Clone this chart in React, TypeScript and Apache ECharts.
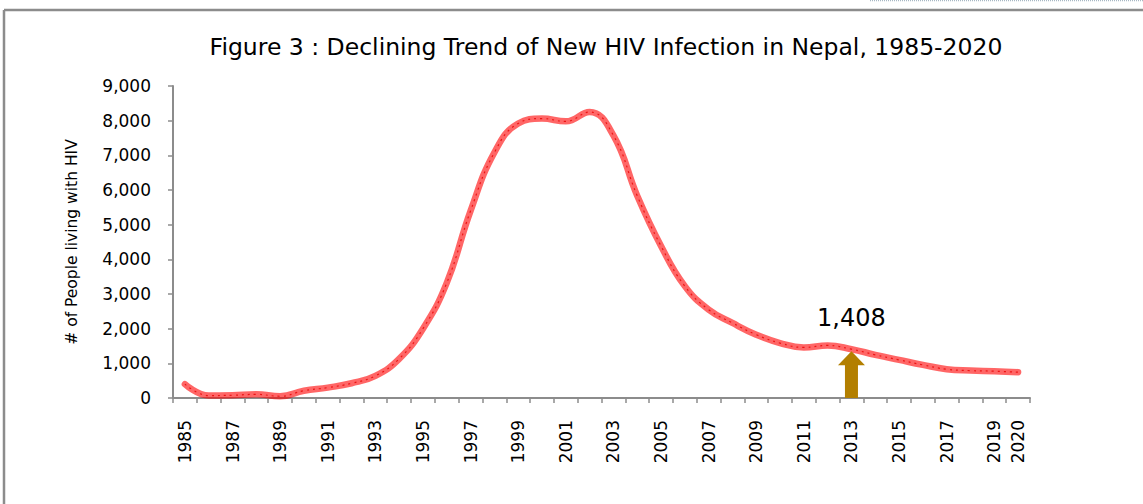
import React, { useEffect, useRef } from "react";
import * as echarts from "echarts";

const years: string[] = [];
for (let y = 1985; y <= 2020; y++) years.push(String(y));

const newInfections = [
  400, 70, 80, 105, 50, 210, 300, 425, 640, 1130,
  2000, 3320, 5400, 7080, 7920, 8060, 7980, 8250, 7575, 5835,
  4385, 3226, 2550, 2165, 1826, 1585, 1460, 1516, 1408, 1246,
  1100, 956, 830, 790, 774, 745,
];

const highlightYear = "2013";
const highlightValue = 1408;
const yTicks = [0, 9000, 1000];
const titleText = "Figure 3 : Declining Trend of New HIV Infection in Nepal, 1985-2020";
const yName = "# of People living with HIV";

const fmt = (v: number) => v.toLocaleString("en-US");

export default function App() {
  const ref = useRef<HTMLDivElement>(null);
  useEffect(() => {
    if (!ref.current) return;
    const chart = echarts.init(ref.current, undefined, { renderer: "svg" });
    const font = "DejaVu Sans";
    const last = years.length - 1;
    chart.setOption({
      animation: false,
      backgroundColor: "#ffffff",
      title: {
        text: titleText,
        left: 601,
        top: 30,
        textAlign: "center",
        textStyle: { fontFamily: font, fontSize: 23.5, fontWeight: "normal", color: "#000" },
      },
      graphic: [
        { type: "line", shape: { x1: 4, y1: 10, x2: 1143, y2: 10 }, style: { stroke: "#8c8c8c", lineWidth: 2.5 } },
        { type: "line", shape: { x1: 4, y1: 10, x2: 4, y2: 504 }, style: { stroke: "#8c8c8c", lineWidth: 2.5 } },
        { type: "line", shape: { x1: 870, y1: 0.5, x2: 1143, y2: 0.5 }, style: { stroke: "#a8b8c4", lineWidth: 1.5, lineDash: [1, 1] } },
      ],
      grid: { left: 173, right: 113, top: 86, bottom: 106, containLabel: false },
      xAxis: {
        type: "category",
        data: years,
        boundaryGap: true,
        axisLine: { lineStyle: { color: "#8c8c8c", width: 2 } },
        axisTick: { show: true, interval: 0, length: 5, lineStyle: { color: "#8c8c8c", width: 1.5 } },
        axisLabel: {
          interval: (i: number) => i % 2 === 0 || i === last,
          rotate: 90,
          margin: 22,
          fontFamily: font,
          fontSize: 17,
          color: "#000",
        },
        splitLine: { show: false },
      },
      yAxis: {
        type: "value",
        min: yTicks[0],
        max: yTicks[1],
        interval: yTicks[2],
        name: yName,
        nameLocation: "middle",
        nameRotate: 90,
        nameGap: 93,
        nameTextStyle: { fontFamily: font, fontSize: 15.5, color: "#000" },
        axisLine: { show: true, lineStyle: { color: "#8c8c8c", width: 2 } },
        axisTick: { show: true, length: 5, lineStyle: { color: "#8c8c8c", width: 1.5 } },
        axisLabel: { margin: 22, fontFamily: font, fontSize: 17, color: "#000", formatter: (v: number) => fmt(v) },
        splitLine: { show: false },
      },
      series: [
        {
          type: "line",
          data: newInfections,
          smooth: 0.45,
          symbol: "none",
          lineStyle: { color: "rgba(255,0,0,0.6)", width: 6.5, cap: "round" },
          z: 3,
        },
        {
          type: "line",
          data: newInfections,
          smooth: 0.45,
          symbol: "none",
          lineStyle: { color: "rgba(230,0,0,0.8)", width: 1.2, type: [2, 4] },
          z: 4,
          silent: true,
        },
        {
          type: "custom",
          data: [[highlightYear, highlightValue]],
          z: 5,
          renderItem: (params: any, api: any) => {
            const top = api.coord([api.value(0), api.value(1)]);
            const base = api.coord([api.value(0), 0]);
            const x = top[0];
            const shaftW = 13;
            const headW = 27;
            const headH = 14;
            const tipY = top[1] + 2;
            return {
              type: "group",
              children: [
                {
                  type: "polygon",
                  shape: {
                    points: [
                      [x - shaftW / 2, base[1]],
                      [x - shaftW / 2, tipY + headH],
                      [x - headW / 2, tipY + headH],
                      [x, tipY],
                      [x + headW / 2, tipY + headH],
                      [x + shaftW / 2, tipY + headH],
                      [x + shaftW / 2, base[1]],
                    ],
                  },
                  style: { fill: "#b37f00" },
                },
                {
                  type: "text",
                  x: x,
                  y: top[1] - 31,
                  style: {
                    text: fmt(api.value(1)),
                    fontFamily: font,
                    fontSize: 24,
                    fill: "#000",
                    textAlign: "center",
                    textVerticalAlign: "middle",
                  },
                },
              ],
            };
          },
        },
      ],
    });
    return () => chart.dispose();
  }, []);
  return (
    <div
      ref={ref}
      style={{ position: "fixed", left: 0, top: 0, width: 1143, height: 504, background: "#fff" }}
    />
  );
}
